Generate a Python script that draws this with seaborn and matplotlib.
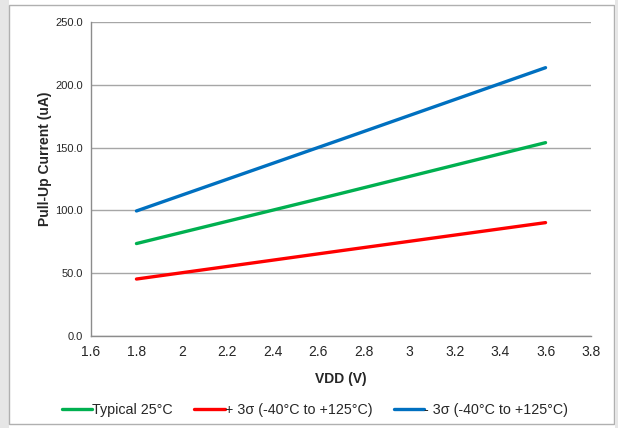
import matplotlib
matplotlib.use("Agg")
import matplotlib.pyplot as plt
import seaborn as sns
import pandas as pd
from matplotlib.patches import Rectangle
from matplotlib.lines import Line2D

vdd = [1.8, 2.7, 3.6]
typical = [73.5, 113.5, 154.0]
plus3 = [45.2, 67.8, 90.2]
minus3 = [99.5, 156.5, 213.8]

series_names = ["Typical 25°C", "+ 3σ (-40°C to +125°C)", "- 3σ (-40°C to +125°C)"]
colors = ["#00B050", "#FF0000", "#0070C0"]

xticks = [1.6, 1.8, 2.0, 2.2, 2.4, 2.6, 2.8, 3.0, 3.2, 3.4, 3.6, 3.8]
xtick_labels = ["1.6", "1.8", "2", "2.2", "2.4", "2.6", "2.8", "3", "3.2", "3.4", "3.6", "3.8"]
yticks = [0, 50, 100, 150, 200, 250]

df = pd.concat([
    pd.DataFrame({"VDD": vdd, "I": vals, "Series": name})
    for name, vals in zip(series_names, [typical, plus3, minus3])
])

sns.set_style("white")
plt.rcParams["font.family"] = ["Liberation Sans", "DejaVu Sans"]

W, H = 618, 428
fig = plt.figure(figsize=(W / 100, H / 100), dpi=100)

# outer frame
fig.patches.append(Rectangle((0, 0), 9 / W, 1, transform=fig.transFigure,
                             facecolor="#e6e6e6", edgecolor="none", zorder=-10))
fig.patches.append(Rectangle((9 / W, 4 / H), (614 - 9) / W, (423 - 4) / H,
                             transform=fig.transFigure, facecolor="white",
                             edgecolor="#b0b0b0", linewidth=1.0, zorder=-10))
fig.patches.append(Rectangle((614.5 / W, 0), 4 / W, 1, transform=fig.transFigure,
                             facecolor="#e6e6e6", edgecolor="none", zorder=-10))

left, right = 91 / W, 591 / W
top, bottom = 1 - 22.3 / H, 1 - 335.7 / H
ax = fig.add_axes([left, bottom, right - left, top - bottom])
ax.set_facecolor("none")

sns.lineplot(data=df, x="VDD", y="I", hue="Series", palette=colors,
             hue_order=series_names, linewidth=2.4, ax=ax, legend=False,
             zorder=3)

ax.set_xlim(1.6, 3.8)
ax.set_ylim(0, 250)
ax.set_xticks(xticks)
ax.set_xticklabels(xtick_labels, fontsize=10)
ax.set_yticks(yticks)
ax.set_yticklabels([f"{v:.1f}" for v in yticks], fontsize=8)
ax.yaxis.grid(True, color="#a6a6a6", linewidth=1.0)
ax.xaxis.grid(False)
for s in ["top", "right"]:
    ax.spines[s].set_visible(False)
for s in ["left", "bottom"]:
    ax.spines[s].set_color("#8c8c8c")
    ax.spines[s].set_linewidth(1.0)
ax.tick_params(axis="y", length=3, color="#8c8c8c", width=1, pad=3)
ax.tick_params(axis="x", length=3, color="#8c8c8c", width=1, pad=4)

ax.set_xlabel("VDD (V)", fontsize=10, fontweight="bold", labelpad=9)
ax.set_ylabel("Pull-Up Current (uA)", fontsize=10, fontweight="bold")
ax.yaxis.set_label_coords(-0.078, 0.564)

handles = [Line2D([0], [0], color=c, linewidth=2.4) for c in colors]
fig.legend(handles, series_names, loc="center", bbox_to_anchor=(315 / W, 1 - 410 / H),
           ncol=3, frameon=False, fontsize=10.3, handlelength=2.1,
           handletextpad=0.0, columnspacing=1.5)

fig.savefig("out.png", dpi=100)
